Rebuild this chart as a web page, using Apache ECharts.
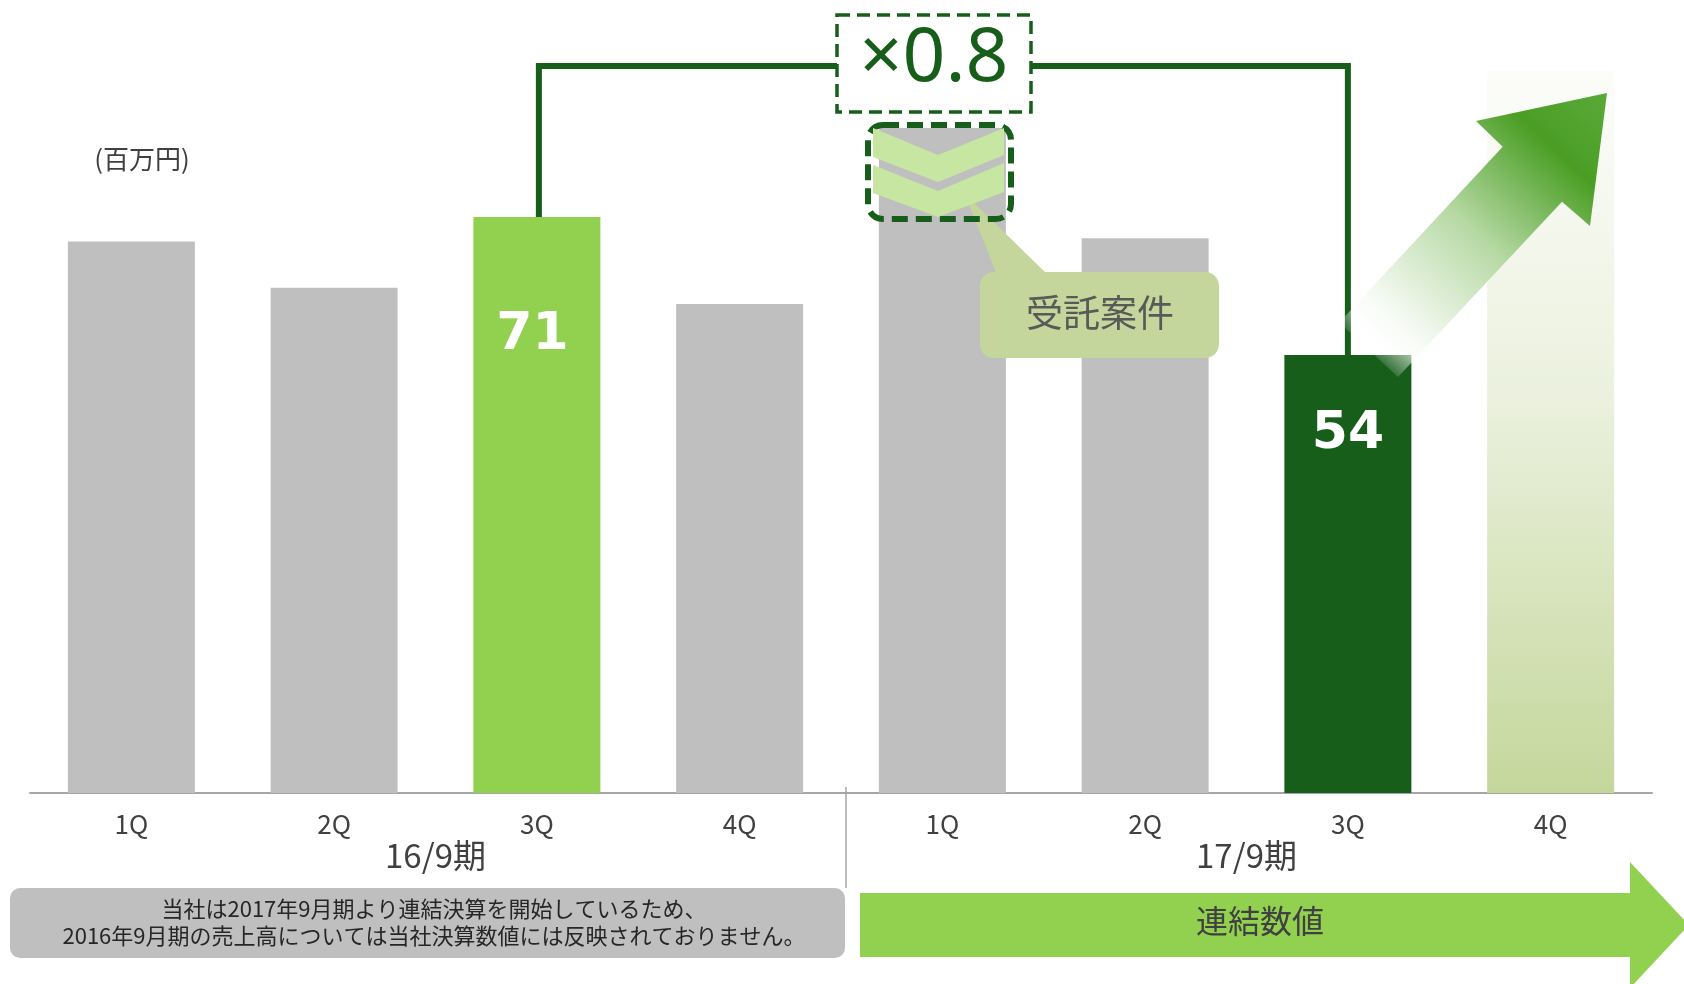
<!DOCTYPE html>
<html>
<head>
<meta charset="utf-8">
<script src="https://cdn.jsdelivr.net/npm/echarts@6/dist/echarts.min.js"></script>
<style>
html,body{margin:0;padding:0;background:#fff;}
#main{width:1684px;height:984px;}
</style>
</head>
<body>
<div id="main"></div>
<script>
// ---- data ----
const categories = ['1Q', '2Q', '3Q', '4Q', '1Q', '2Q', '3Q', '4Q'];
const periods = ['16/9期', '17/9期'];
const values = [68, 62.3, 71, 60.3, 82, 68.4, 54, 89];
const labelShown = [false, false, true, false, false, false, true, false];
const unitText = '(百万円)';
const ratioText = '×0.8';
const calloutText = '受託案件';
const consolidatedText = '連結数値';
const noteLines = ['当社は2017年9月期より連結決算を開始しているため、', '2016年9月期の売上高については当社決算数値には反映されておりません。'];

// ---- styles ----
const GRAY = '#bfbfbf', LIGHT = '#92d050', DARK = '#165e1a';
const FONT = "'Noto Sans CJK JP', 'Noto Sans', sans-serif";
const barColors = [GRAY, GRAY, LIGHT, GRAY, GRAY, GRAY, DARK,
  {type: 'linear', x: 0, y: 0, x2: 0, y2: 1, colorStops: [
    {offset: 0, color: '#fcfdfa'}, {offset: 0.45, color: '#ebf1de'}, {offset: 1, color: '#c4d79b'}]}];
const labelPos = [null, null, ['46.5%', '20.5%'], null, null, null, ['50%', '18.1%'], null];

const seriesData = values.map((v, i) => {
  const item = {value: v, itemStyle: {color: barColors[i]}};
  if (labelShown[i]) {
    item.label = {show: true, position: labelPos[i], align: 'center', verticalAlign: 'middle',
      color: '#fff', fontSize: 52, fontWeight: 'bold', fontFamily: "'DejaVu Sans', sans-serif",
      formatter: '{c}'};
  }
  return item;
});

const option = {
  animation: false,
  backgroundColor: '#fff',
  textStyle: {fontFamily: FONT},
  grid: {left: 30, right: 32, top: 63, bottom: 191, containLabel: false},
  xAxis: [
    {type: 'category', data: categories, position: 'bottom',
      axisLine: {lineStyle: {color: '#a6a6a6', width: 2}},
      axisTick: {show: false},
      axisLabel: {fontSize: 26, color: '#404040', margin: 18, fontFamily: FONT}},
    {type: 'category', data: periods, position: 'bottom', gridIndex: 0,
      axisLine: {show: false}, axisTick: {show: false}, splitLine: {show: false},
      axisLabel: {fontSize: 33, color: '#404040', margin: 46, fontFamily: FONT}}
  ],
  yAxis: {type: 'value', min: 0, max: 90, show: false},
  series: [{
    type: 'bar', xAxisIndex: 0, yAxisIndex: 0,
    barWidth: 127, data: seriesData, label: {show: false}, z: 2
  }]
};

const chart = echarts.init(document.getElementById('main'), null, {renderer: 'canvas'});
chart.setOption(option);

const p3 = chart.convertToPixel({xAxisIndex: 0, yAxisIndex: 0}, [2, values[2]]);
const p7 = chart.convertToPixel({xAxisIndex: 0, yAxisIndex: 0}, [6, values[6]]);
const bracketY = 66;

// diagonal arrow geometry
const T = [1607, 93], W1 = [1476, 121], N1 = [1502.7, 146.7], A1 = [1339.3, 322.4],
      A2 = [1398, 377], N2 = [1562, 201.7], W2 = [1590, 226];
const tailC = [(A1[0] + A2[0]) / 2, (A1[1] + A2[1]) / 2];

const graphics = [
  // unit
  {type: 'text', z: 10, style: {text: unitText, x: 142, y: 159, align: 'center', verticalAlign: 'middle',
    font: '26px ' + FONT, fill: '#404040'}},
  // bracket
  {type: 'polyline', z: 10, shape: {points: [[p3[0] + 2, p3[1]], [p3[0] + 2, bracketY], [p7[0], bracketY], [p7[0], p7[1]]]},
    style: {stroke: DARK, lineWidth: 6, fill: null, lineJoin: 'miter'}},
  // ratio box
  {type: 'rect', z: 11, shape: {x: 837, y: 15, width: 194, height: 97},
    style: {fill: '#fff', stroke: DARK, lineWidth: 3.5, lineDash: [13, 7]}},
  {type: 'text', z: 12, style: {text: ratioText, x: 934, y: 60, align: 'center', verticalAlign: 'middle',
    font: '75px ' + "'Noto Sans', sans-serif", fill: DARK}},
  // callout
  {type: 'polygon', z: 11, shape: {points: [[997, 275], [1048, 275], [965, 194]]}, style: {fill: '#c4d69b'}},
  {type: 'rect', z: 11, shape: {x: 980, y: 272, width: 239, height: 86, r: 14}, style: {fill: '#c4d69b'}},
  {type: 'text', z: 12, style: {text: calloutText, x: 1100, y: 313, align: 'center', verticalAlign: 'middle',
    font: '37px ' + FONT, fill: '#595959'}},
  // chevron frame
  {type: 'rect', z: 12, shape: {x: 868, y: 125, width: 143, height: 94, r: 15},
    style: {fill: null, stroke: DARK, lineWidth: 6, lineDash: [16, 8]}},
  // chevrons
  {type: 'polygon', z: 13, shape: {points: [[873, 128], [938, 155], [1004, 128], [1004, 155], [938, 182], [873, 157]]},
    style: {fill: '#c6e6a1'}},
  {type: 'polygon', z: 13, shape: {points: [[873, 165], [938, 191], [1004, 163], [1004, 192], [938, 217], [873, 193]]},
    style: {fill: '#c6e6a1'}},
  // diagonal arrow
  {type: 'polygon', z: 14, shape: {points: [T, W2, N2, A2, A1, N1, W1]},
    style: {fill: {type: 'linear', global: true, x: tailC[0], y: tailC[1], x2: T[0], y2: T[1], colorStops: [
      {offset: 0, color: 'rgba(255,255,255,0.15)'},
      {offset: 0.12, color: 'rgba(246,250,244,0.95)'},
      {offset: 0.45, color: '#b6d9a4'},
      {offset: 0.78, color: '#4a9e24'},
      {offset: 1, color: '#5aa93a'}]}}},
  // separator
  {type: 'line', z: 10, shape: {x1: 846, y1: 787, x2: 846, y2: 888}, style: {stroke: '#a6a6a6', lineWidth: 1.5}},
  // note box
  {type: 'rect', z: 10, shape: {x: 10, y: 888, width: 835, height: 70, r: 10}, style: {fill: '#bfbfbf'}},
  {type: 'text', z: 11, style: {text: noteLines[0], x: 434, y: 909, align: 'center', verticalAlign: 'middle',
    font: '22px ' + FONT, fill: '#262626'}},
  {type: 'text', z: 11, style: {text: noteLines[1], x: 434, y: 936, align: 'center', verticalAlign: 'middle',
    font: '22px ' + FONT, fill: '#262626'}},
  // consolidated arrow
  {type: 'polygon', z: 10, shape: {points: [[860, 893], [1630, 893], [1630, 862], [1689, 925], [1630, 988], [1630, 957], [860, 957]]},
    style: {fill: LIGHT}},
  {type: 'text', z: 11, style: {text: consolidatedText, x: 1260, y: 921, align: 'center', verticalAlign: 'middle',
    font: '32px ' + FONT, fill: '#404040'}}
];

chart.setOption({graphic: {elements: graphics}});
</script>
</body>
</html>
